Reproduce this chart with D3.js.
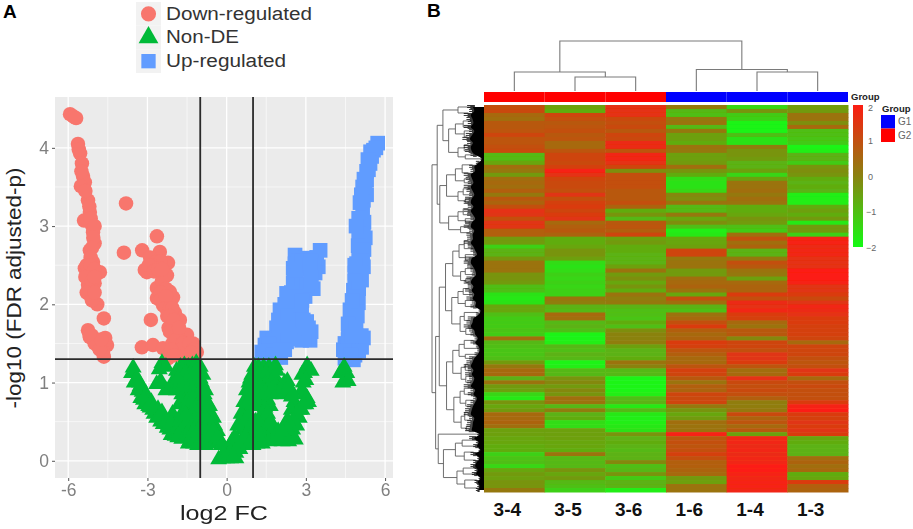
<!DOCTYPE html>
<html>
<head>
<meta charset="utf-8">
<script src="https://d3js.org/d3.v7.min.js"></script>
<style>
body { margin: 0; background: #fff; }
svg { display: block; font-family: "Liberation Sans", Arial, sans-serif; }
</style>
</head>
<body>
<svg width="913" height="529"></svg>
<script>

// panel A: values as [log2 FC, -log10 p]
var downPoints = [
  [-5.93,4.43],[-5.8,4.4],[-5.7,4.38],[-5.63,4.05],[-5.55,3.93],[-5.48,3.8],[-5.44,3.64],[-5.37,3.56],[-5.52,3.51],
  [-5.25,3.33],[-5.18,3.18],[-5.1,3.01],[-5.4,3.07],[-5.06,2.92],[-5,2.78],[-5.18,2.69],[-5.06,2.54],[-5.37,2.46],
  [-4.8,2.41],[-5.2,2.4],[-5.25,2.25],[-5,2.27],[-5.18,2.12],[-4.9,2.0],[-4.65,1.82],[-5.25,1.67],[-5.18,1.58],
  [-4.9,1.54],[-4.6,1.57],[-4.53,1.48],[-4.68,1.39],[-4.65,1.33],[-4.85,1.45],
  [-5.6,3.98],[-5.5,3.7],[-5.35,3.45],[-5.2,3.25],[-5.15,3.1],[-5.0,3.0],[-5.05,2.85],[-5.1,2.72],[-5.15,2.6],[-5.3,2.5],
  [-5.15,2.5],[-5.0,2.45],[-5.35,2.35],[-5.1,2.3],[-5.3,2.15],[-5.1,2.05],[-5,2.15],[-5.0,2.35],
  [-5.1,1.6],[-5,1.5],[-4.8,1.42],[-4.75,1.55],[-5.2,1.62],
  [-3.81,3.29],[-3.89,2.66],[-2.64,2.87],[-3.2,2.69],[-2.53,2.67],[-2.22,2.53],[-2.9,2.6],[-2.7,2.54],[-3.1,2.44],
  [-2.34,2.41],[-3.02,2.41],[-2.26,2.37],[-2.64,2.21],[-2.15,2.16],[-2.64,2.08],[-2.41,1.99],[-2.03,2.09],
  [-2.87,1.8],[-1.96,1.89],[-2.07,1.76],[-1.77,1.8],[-2.03,1.63],[-1.5,1.61],[-1.77,1.54],[-1.27,1.5],[-3.21,1.45],
  [-2.79,1.48],[-2.41,1.44],[-1.88,1.45],[-1.5,1.44],[-1.13,1.39],[-2.22,1.31],[-1.39,1.31],[-2.2,1.7],[-2.45,2.3],[-2.3,2.2],
  [-2.5,2.55],[-2.85,2.5],[-2.95,2.5],[-2.75,2.42],[-2.6,2.45],[-2.45,2.45],[-2.5,2.15],[-2.5,2.05],[-2.3,2.1],[-2.3,1.95],
  [-2.15,1.95],[-2.25,1.85],[-2.05,1.95],[-2.15,1.85],[-2.0,1.8],[-2.15,1.65],[-2.05,1.5],[-1.85,1.65],[-1.9,1.55],[-1.65,1.5],
  [-1.6,1.4],[-1.75,1.42],[-1.4,1.5],[-1.25,1.42],[-1.35,1.38],[-1.95,1.35],[-2.1,1.42],[-1.8,1.7],[-2.0,1.35]
];

var upPoints = [
  [5.72,4.06],[5.56,3.97],[5.49,3.89],[5.43,3.8],[5.37,3.72],[5.3,3.59],[5.24,3.46],[5.18,3.33],[5.15,3.2],[5.11,3.08],
  [5.18,2.91],[5.11,2.78],[5.08,2.65],[4.92,2.52],[5.18,2.48],[4.86,2.4],[5.11,2.31],[4.8,2.18],[4.99,2.02],[4.95,2.25],
  [4.67,1.93],[4.85,1.95],[4.8,1.76],[4.61,1.63],[5.18,1.57],[4.9,1.6],[4.48,1.5],[5.11,1.45],[4.42,1.42],[4.86,1.35],[4.48,1.31],[4.8,1.29],[4.7,1.45],
  [5.0,3.1],[5.2,3.05],[5.0,2.9],[5.25,2.85],[4.98,2.75],[5.2,2.7],[5.0,2.6],[5.15,2.55],[4.85,2.5],[5.05,2.4],[4.85,2.3],[5.0,2.2],
  [4.9,2.1],[4.75,2.05],[4.7,1.85],[4.95,1.85],[4.6,1.75],[4.9,1.7],[4.6,1.55],[4.75,1.6],[5.1,1.6],[4.5,1.4],[5,1.4],[4.7,1.35],
  [5.3,3.4],[5.15,3.5],[5.3,3.7],[5.45,3.95],[5.65,4.0],[5.05,3.3],[5.1,3.4],[5.2,3.6],[5.35,3.85],[4.9,3.0],
  [2.59,2.63],[3.54,2.69],[2.97,2.59],[3.41,2.6],[2.59,2.52],[3.47,2.48],[2.52,2.46],[3.35,2.4],[2.65,2.37],[2.97,2.52],
  [2.52,2.27],[3.28,2.2],[2.27,2.14],[2.78,2.14],[2.97,2.1],[2.02,1.93],[2.52,1.97],[2.84,1.93],[1.96,1.8],[2.46,1.84],
  [3.03,1.78],[1.89,1.7],[2.4,1.71],[3.03,1.63],[2.46,1.61],[1.52,1.57],[1.96,1.61],[3.16,1.54],[1.45,1.48],[2.02,1.52],
  [1.33,1.39],[1.77,1.42],[1.45,1.33],[1.89,1.33],[2.27,1.52],[2.84,1.54],[2.52,1.56],[2.2,1.85],[2.65,1.75],[3.2,1.65],
  [2.7,2.55],[2.85,2.55],[3.2,2.55],[3.3,2.5],[2.55,2.35],[2.7,2.45],[3.15,2.5],[3.2,2.35],[2.65,2.25],[2.85,2.25],[3.05,2.25],[3.2,2.28],
  [2.45,2.15],[2.6,2.1],[2.2,2.0],[2.35,2.0],[2.65,2.0],[2.85,2.05],[2.15,1.85],[2.3,1.85],[2.65,1.85],[2.8,1.8],[2.15,1.7],[2.6,1.68],
  [2.9,1.8],[2.2,1.55],[2.1,1.65],[1.75,1.55],[1.6,1.5],[1.55,1.4],[1.35,1.3],[1.6,1.3],[2.05,1.32],[1.75,1.35],[2.0,1.42],[2.2,1.42],
  [3.1,1.55],[2.95,1.55],[2.7,1.56],[2.95,1.72],[3.1,1.7]
];

var nonDEPoints = [
  [-3.6,1.12],[-3.54,1.19],[-3.5,1.0],[-3.4,1.05],[-3.35,.9],[-3.28,.95],[-3.25,.8],[-3.1,.72],[-3.0,.78],[-2.9,.68],
  [-2.75,.6],[-2.6,.66],[-2.5,.5],[-2.35,.55],[-2.2,.46],[-2.05,.6],[-2.0,.38],[-1.85,.3],[-1.95,.5],[-1.7,.28],
  [-1.55,.4],[-1.4,.25],[-1.25,.22],[-1.1,.2],[-.95,.2],[-.8,.2],[-.65,.22],[-.5,.25],
  [-3.3,1.0],[-3.2,.88],[-3.05,.85],[-3.15,.78],[-2.95,.7],[-2.85,.75],[-2.8,.65],[-2.65,.55],[-2.55,.58],[-2.45,.62],
  [-2.4,.47],[-2.25,.42],[-2.3,.5],[-2.15,.4],[-2.1,.48],[-2.1,.33],[-1.95,.32],[-1.85,.42],[-1.8,.35],[-1.7,.4],
  [-1.75,.52],[-1.65,.5],[-1.6,.3],[-1.5,.3],[-1.45,.22],[-1.3,.32],[-1.15,.3],[-1.0,.25],[-.85,.27],[-.7,.28],[-.55,.3],
  [-2.45,1.25],[-2.55,1.17],[-2.3,1.2],[-2.65,.98],[-2.5,1.02],[-2.3,.9],[-2.15,.92],[-2.05,1.0],
  [-1.9,1.15],[-1.75,1.2],[-1.6,1.22],[-1.45,1.2],[-1.3,1.22],[-1.15,1.25],[-1,1.2],
  [-1.8,1.0],[-1.6,1.05],[-1.4,1.05],[-1.2,1.1],[-1,1.05],[-.9,1.1],
  [-1.9,.9],[-1.7,.85],[-1.5,.9],[-1.3,.92],[-1.1,.95],[-.9,.95],[-.8,.9],
  [-1.8,.72],[-1.3,.75],[-1.1,.78],[-.9,.8],[-.75,.75],[-.65,.7],
  [-1.45,.65],[-1.25,.6],[-1.05,.62],[-.85,.65],[-.6,.6],[-.5,.55],
  [-1.5,.5],[-1.3,.45],[-1.1,.47],[-.9,.48],[-.7,.45],[-.45,.45],[-.35,.38],
  [-1.0,.35],[-.8,.33],[-.6,.33],[-.4,.3],[-.25,.26],[-.15,.2],
  [-1.6,.75],[-1.5,.75],[-1.7,.95],[-1.55,.98],[-1.35,.98],[-1.15,1.0],[-.95,1.0],[-1.75,1.1],[-1.55,1.12],[-1.35,1.12],[-1.15,1.15],
  [-1.85,1.05],[-1.7,.6],[-1.6,.62],[-1.4,.8],[-1.2,.85],[-1,.88],[-.85,.85],[-1.35,.6],[-1.15,.68],[-.95,.72],[-.75,.65],[-.65,.55],
  [-1.4,.55],[-1.2,.52],[-1,.55],[-.8,.55],[-.6,.45],[-1.25,.38],[-1.05,.4],[-.85,.4],[-.65,.38],[-.5,.38],[-.35,.3],[-.2,.2],[-1.55,.58],
  [-.3,.02],[-.15,.03],[0,.03],[.15,.03],[.35,.03],[-.1,.1],[.1,.1],[.25,.15],[.35,.1],[.2,.25],[.4,.25],[.5,.15],
  [-.05,.05],[.05,.05],[.25,.05],[.3,.2],[.45,.2],[.55,.25],[.6,.4],[.55,.45],[.7,.6],[.8,.7],[.8,.5],[.75,.4],[.9,.5],[.95,.7],
  [1.0,.8],[.95,.95],[.65,.55],[.8,.8],[.9,1.05],[1,1.0],[1.1,.5],[1.1,.35],[.95,.27],[1.25,.27],[1.15,.8],[1.15,1.1],
  [.3,.3],[.42,.45],[.55,.6],[.65,.75],[.75,.9],[.85,1.0],[.95,1.1],[1.05,1.2],
  [.7,.5],[.85,.6],[.9,.8],[.85,.4],[1,.35],[1,.5],[1.1,.7],[1.05,.9],[.7,.3],[.85,.22],[1,.2],[1.15,.22],
  [1.2,1.2],[1.4,1.2],[1.6,1.2],[1.85,1.22],[1.2,1.02],[1.4,1.05],[1.6,1.05],[1.8,1.05],[1.95,1.0],[2.05,.95],[2.25,.92],
  [1.3,1.12],[1.5,1.12],[1.7,1.12],[1.9,1.15],[1.3,.95],[1.5,.97],[1.7,1.0],[1.85,.97],[1.35,.78],[1.55,.78],[1.65,.85],[1.85,.88],
  [1.25,.85],[1.45,.88],[1.7,.9],[2.15,.85],[2.45,.82],[1.25,.7],[1.45,.68],[1.65,.7],[1.2,.5],[1.45,.52],[1.55,.35],
  [1.35,.6],[1.55,.6],[1.3,.45],[1.5,.42],[1.7,.35],[1.45,.3],[1.75,.3],[2,.3],[2.2,.3],[2.45,.33],[2.5,.4],[2.65,.45],[2.75,.55],
  [2.85,.65],[3,.72],[3.1,.75],[1.95,.88],[2.1,.92],[2.2,1.0],[2.3,1.02],[2.55,.75],[2.45,.65],[2.3,.52],[2.2,.45],
  [1.3,.32],[1.35,.22],[1.6,.25],[1.85,.28],[2.1,.25],[2.35,.25],[2.6,.27],
  [3.05,.8],[2.95,.85],[2.85,.9],[2.9,.72],[2.75,.65],[2.65,.6],[2.55,.5],[2.4,.45],[2.3,.4],
  [1.65,.5],[1.8,.42],[1.95,.38],[2.1,.38],[2.35,.95],[2.5,.85],
  [3.05,1.22],[2.95,1.12],[3.2,1.15],[2.85,1.1],[3.0,1.03],[2.9,1.0],
  [4.45,1.2],[4.55,1.12],[4.3,1.12],[4.4,1.0],[4.6,1.02]
];

var xTicks = [-6,-3,0,3,6];
var xMinor = [-4.5,-1.5,1.5,4.5];
var yTicks = [0,1,2,3,4];
var yMinor = [.5,1.5,2.5,3.5];
var fcCuts = [-1,1];
var pCut = [1.3];
var legendNames = ["Down-regulated","Non-DE","Up-regulated"];

// panel B: one list per column, top row first
var col34 = [
  1.0,1.1,.5,.4,.8,.8,.9,1.2,.9,.9,
  1.0,1.1,-.9,-.9,-.6,.4,.2,-.4,.4,.5,
  .4,.7,.2,.8,.6,1.0,1.6,1.5,1.0,1.5,
  1.5,.7,.7,-.4,-.4,-1.3,-.8,-.8,-.3,.3,
  .3,.3,-.3,-.3,-.4,-1.0,-1.0,-1.6,-1.7,-1.6,
  -.6,-.6,-1,-1.2,-1.2,-1.2,-1.1,-1.2,.4,-.9,
  -1,-1.1,-1.1,-1,-.4,.2,.5,.5,-.8,.3,
  -.4,-.5,-1.4,-1.7,-.3,-.6,-.4,.5,.5,.6,
  .4,-.5,-.5,-.6,-.6,-.7,-.7,-1.3,-1.1,-1,
  -1.4,-.6,-.4,-.5,-.3,-.3,.2];
var col35 = [
  -.5,-.7,1.2,1,.8,.9,1,.8,.9,.5,
  .5,.9,1.2,1.2,1.1,1.3,1.9,1.6,1.2,1.1,
  1.1,1,1.5,1,1.3,1.4,1.2,1.4,1.5,.5,
  .7,.8,.6,-.7,-.7,-.6,-.3,-.3,-.5,-1.5,
  -1.6,-1.5,-1.3,-1.4,-1.3,-1.4,-1.3,-1.3,.3,.1,
  -.8,-.9,.5,.4,-.9,-.8,-1,-1.9,-1.9,-1.8,
  -.9,-1,-.8,-.9,-1.9,-1.8,-.9,-.9,-.3,-.1,
  -.4,-.1,-.3,.4,.3,-.9,.1,-.8,-.7,-1.5,
  -1.5,-.5,-.5,-.5,-.6,-.6,-.7,.3,-.9,-.9,
  -.9,-.3,-.6,-.4,-.9,-1,-1.3];
var col36 = [
  1.6,1.6,1.6,1.1,1,1.1,.8,1.2,1.1,1.7,
  1.7,.9,1.8,1.8,1.6,1.2,-.2,1,1,1,
  1,.8,.8,.8,1,.6,-.7,-.3,-.9,.8,
  .9,.7,1.2,-.5,-.4,-.7,-.7,-.8,-.8,-.8,
  -.5,.3,-.4,-.2,-.6,-.3,-.7,.3,.1,.2,
  -.8,-1,-1,-1.1,-.7,-1,-.2,0,0,.1,
  -.5,-.8,-.8,-.7,.3,0,-.9,-.9,-1.9,-1.9,
  -1.9,-1.9,-1.8,-1,-.8,-1.7,-.9,-1.7,-1.8,-1.8,
  -1.7,-1.6,-.3,-.8,-.7,-.8,-.9,-.8,-.8,-.1,
  -1,-.9,-.3,-1.2,-.8,-.8,-1.8];
var col16 = [
  .2,-.9,-1,.2,.3,-.9,.2,-.5,-.5,-.7,
  .3,.2,-.5,-.5,-.4,.4,-.3,-.7,-1.5,-1.6,
  -1.6,-1.4,-.1,-.2,.3,-.9,-.9,.2,-.6,-.2,
  -1,-1.8,-1.7,-.6,-.6,-.5,1.2,1.2,.2,.3,
  .3,-.4,-.4,.4,.5,.6,.3,-.6,1,.4,
  -.8,-1,.3,.5,1,1.4,.7,.5,.6,1.4,
  1.3,.9,.7,.5,.5,.9,1.3,1.2,.8,.3,
  .7,.6,1.2,1.1,1.2,.2,-.3,-.6,-.4,.4,
  .3,.3,1.9,.8,1,.9,1,1.3,1,.7,
  .7,.6,.5,-.4,-.5,.3,.3];
var col14 = [
  -1.4,-.3,-1.2,-1.3,-1.9,-1.9,-1.9,-1,-1.6,-1.6,
  .1,-.3,-.3,-.4,-.8,-.8,-.5,-1.4,-.5,.3,
  .3,.4,.2,.4,.3,-.7,-.7,-.6,-.3,-.4,
  -1,-1.2,.4,1,.4,.6,-.8,-.8,.2,1,
  .8,.3,.2,-.5,.5,.6,.6,1.4,1,1.7,
  1.6,1.8,1.4,1.3,.5,.3,.8,.8,-.1,1.2,
  1.2,1,1.5,1.5,1.4,.9,.4,.5,1.6,1.1,
  1,1.1,1,.7,.1,.1,.2,1.1,.6,.9,
  .5,.8,-.5,1.8,1.8,1.7,1.8,1.7,1.8,1.8,
  2,2,1.9,1.8,1.9,1.9,1.8];
var col13 = [
  -.4,-.4,.3,.3,-.2,.5,-1,-1,-1.1,-1.2,
  -1.9,-1.8,-.8,-.8,-1.2,-.3,-.2,-.3,-.7,-.8,
  -.7,-.8,-1.8,-1.8,-1.8,-.7,-.5,-.7,-.4,-1.7,
  -.4,-.4,-1.3,1.8,1.9,1.7,1.8,1.8,1.6,1.6,
  1.6,2,2,2,1.9,1.5,1.5,1.4,1.1,1.5,
  1.8,1.7,1.6,1.4,1.4,1.3,1.3,1.3,1.2,.5,
  1.2,1.2,1.2,1,.9,1,1.5,1.4,.5,1,
  1.1,1,1,1,1.4,1.9,2,1.4,1.3,1.5,
  1.4,1.5,1.4,-.6,-.7,-.8,-.8,-.8,.4,.6,
  .4,.5,-.7,-.6,1.4,.7,.6];

var sampleNames = ["3-4","3-5","3-6","1-6","1-4","1-3"];
var sampleGroups = ["G2","G2","G2","G1","G1","G1"];
var groupNames = ["G1","G2"];
var colorTicks = [2,1,0,-1,-2];

// how deep the fine row branches reach, per row
var combDepth = [
  .25,.22,.3,.26,.24,.3,.22,.27,.32,.25,
  .3,.28,.2,.05,.12,.22,.2,.3,.27,.24,
  .3,.26,.22,.28,.3,.24,.3,.25,.2,.28,
  .3,.22,.26,.25,.3,.24,.2,.16,.28,.3,
  .25,.2,.18,.26,.3,.24,.28,.22,.26,.18,
  .2,.08,.12,.24,.26,.3,.22,.2,.14,.2,
  .12,.1,.14,.22,.26,.3,.24,.28,.22,.25,
  .3,.2,.24,.16,.2,.25,.28,.3,.22,.25,
  .26,.28,.1,.22,.12,.16,.08,.2,.1,.16,
  .2,.14,.18,.08,.14,.1,.12];

// dendrograms as nested [height, left, right]. top tree leaves are column numbers, row tree leaves are row counts
var colTree = [1, [.38, 0, [.28, 1, 2]], [.43, 3, [.38, 4, 5]]];
var rowTree = [1.0,
  [.90,
    [.79, [.5,1,2], [.68, [.55,[.4,2,1],[.38,1,2]], [.5,[.38,2,1],[.36,1,1]]]],
    [.85,
      [.72, [.55,[.42,2,2],[.38,1,1]], [.5,[.4,2,1],[.36,1,1]]],
      [.68, [.5,[.4,2,1],[.36,1,1]], [.45,1,2]]]],
  [.93,
    [.86,
      [.74, [.6,[.48,[.38,2,2],[.36,1,2]],[.45,[.36,2,1],[.35,1,1]]], [.62,[.5,[.4,2,1],[.36,2,1]],[.46,[.38,2,2],[.35,2,1]]]],
      [.72, [.6,[.48,[.38,2,2],[.36,1,1]],[.44,[.36,2,1],[.35,2,1]]], [.58,[.46,[.38,2,1],[.35,2,1]],[.44,[.37,2,2],[.34,1,1]]]]],
    [.88, 1, [.78, [.55,[.42,2,1],[.38,2,2]], [.52,[.4,2,1],[.37,2,2]]]]]
];

var svg = d3.select("svg");

var defs = svg.append("defs");
defs.append("filter").attr("id", "soft").append("feGaussianBlur").attr("stdDeviation", 0.6);
defs.append("filter").attr("id", "softer").append("feGaussianBlur").attr("stdDeviation", 0.35);

svg.append("text").attr("x", 3).attr("y", 18).attr("font-size", 19).attr("font-weight", "bold").text("A");
svg.append("text").attr("x", 427).attr("y", 17).attr("font-size", 19).attr("font-weight", "bold").text("B");

/* ---------- volcano plot ---------- */

var x = d3.scaleLinear().domain([-6.5, 6.3]).range([55, 393]);
var y = d3.scaleLinear().domain([-0.22, 4.65]).range([478, 97]);

var colorDown = "#f8766d", colorNon = "#00ba38", colorUp = "#619cff";

var panel = svg.append("g");

panel.append("rect")
  .attr("x", x.range()[0]).attr("y", y.range()[1])
  .attr("width", x.range()[1] - x.range()[0])
  .attr("height", y.range()[0] - y.range()[1])
  .attr("fill", "#ebebeb");

panel.selectAll(".minorx").data(xMinor).enter().append("line")
  .attr("x1", d => x(d)).attr("x2", d => x(d)).attr("y1", y.range()[0]).attr("y2", y.range()[1])
  .attr("stroke", "#fff").attr("stroke-width", 0.6);
panel.selectAll(".minory").data(yMinor).enter().append("line")
  .attr("y1", d => y(d)).attr("y2", d => y(d)).attr("x1", x.range()[0]).attr("x2", x.range()[1])
  .attr("stroke", "#fff").attr("stroke-width", 0.6);
panel.selectAll(".majorx").data(xTicks).enter().append("line")
  .attr("x1", d => x(d)).attr("x2", d => x(d)).attr("y1", y.range()[0]).attr("y2", y.range()[1])
  .attr("stroke", "#fff").attr("stroke-width", 1.3);
panel.selectAll(".majory").data(yTicks).enter().append("line")
  .attr("y1", d => y(d)).attr("y2", d => y(d)).attr("x1", x.range()[0]).attr("x2", x.range()[1])
  .attr("stroke", "#fff").attr("stroke-width", 1.3);

var circleSym = d3.symbol().type(d3.symbolCircle).size(165);
var triSym = d3.symbol().type(d3.symbolTriangle).size(125);
var squareSym = d3.symbol().type(d3.symbolSquare).size(215);

var marks = panel.append("g").attr("filter", "url(#softer)");

function drawPoints(points, sym, color) {
  marks.append("g").selectAll("path").data(points).enter().append("path")
    .attr("d", sym)
    .attr("transform", d => "translate(" + x(d[0]) + "," + y(d[1]) + ")")
    .attr("fill", color);
}

drawPoints(downPoints, circleSym, colorDown);
drawPoints(upPoints, squareSym, colorUp);
drawPoints(nonDEPoints, triSym, colorNon);

panel.selectAll(".vcut").data(fcCuts).enter().append("line")
  .attr("x1", d => x(d)).attr("x2", d => x(d)).attr("y1", y.range()[0]).attr("y2", y.range()[1])
  .attr("stroke", "#2b2b2b").attr("stroke-width", 1.8);
panel.selectAll(".hcut").data(pCut).enter().append("line")
  .attr("y1", d => y(d)).attr("y2", d => y(d)).attr("x1", x.range()[0]).attr("x2", x.range()[1])
  .attr("stroke", "#2b2b2b").attr("stroke-width", 1.6);

var xAxis = svg.append("g")
  .attr("transform", "translate(0," + y.range()[0] + ")")
  .call(d3.axisBottom(x).tickValues(xTicks).tickSize(3).tickPadding(3).tickFormat(d => String(d)));
var yAxis = svg.append("g")
  .attr("transform", "translate(" + x.range()[0] + ",0)")
  .call(d3.axisLeft(y).tickValues(yTicks).tickSize(3).tickPadding(3).tickFormat(d => String(d)));

[xAxis, yAxis].forEach(function (a) {
  a.select(".domain").remove();
  a.selectAll("line").attr("stroke", "#555");
  a.selectAll("text").attr("fill", "#7f7f7f").attr("font-size", 17.5).attr("font-family", "Liberation Sans");
});

// the titles in the picture are stretched sideways, hence textLength
svg.append("text").attr("x", 224).attr("y", 520).attr("text-anchor", "middle")
  .attr("font-size", 21).attr("fill", "#222")
  .attr("textLength", 88).attr("lengthAdjust", "spacingAndGlyphs").text("log2 FC");
svg.append("text").attr("transform", "translate(21,288) rotate(-90)").attr("text-anchor", "middle")
  .attr("font-size", 21).attr("fill", "#222")
  .attr("textLength", 241).attr("lengthAdjust", "spacingAndGlyphs").text("-log10 (FDR adjusted-p)");

// legend
var legendY = d3.scaleBand().domain(legendNames).range([2, 73]);
var legendSyms = [
  d3.symbol().type(d3.symbolCircle).size(180),
  d3.symbol().type(d3.symbolTriangle).size(170),
  d3.symbol().type(d3.symbolSquare).size(205)
];
var legendColors = [colorDown, colorNon, colorUp];
var legendWidths = [146, 73, 120];

var legend = svg.append("g").selectAll("g").data(legendNames).enter().append("g")
  .attr("transform", d => "translate(136," + legendY(d) + ")");
legend.append("rect").attr("width", 25).attr("height", legendY.bandwidth()).attr("fill", "#f2f2f2");
legend.append("path")
  .attr("d", (d, i) => legendSyms[i]())
  .attr("transform", "translate(12.5," + legendY.bandwidth() / 2 + ")")
  .attr("fill", (d, i) => legendColors[i]);
legend.append("text")
  .attr("x", 30).attr("y", legendY.bandwidth() / 2 + 6)
  .attr("font-size", 18).attr("fill", "#333")
  .attr("textLength", (d, i) => legendWidths[i]).attr("lengthAdjust", "spacingAndGlyphs").text(d => d);

/* ---------- heatmap ---------- */

var columns = [col34, col35, col36, col16, col14, col13];

var colX = d3.scaleBand().domain(d3.range(columns.length)).range([484, 848]);
var rowY = d3.scaleBand().domain(d3.range(col34.length)).range([105, 492]);
var heat = d3.scaleLinear().domain([-2, 0, 2]).range(["#14fa14", "#8a8210", "#fc1c12"]);
var groupColor = d3.scaleOrdinal().domain(groupNames).range(["#0000ff", "#ff0000"]);

var heatG = svg.append("g").attr("filter", "url(#soft)");

columns.forEach(function (col, c) {
  heatG.append("g").selectAll("rect").data(col).enter().append("rect")
    .attr("x", colX(c))
    .attr("y", (d, r) => rowY(r))
    .attr("width", colX.bandwidth() + 0.5)
    .attr("height", rowY.bandwidth() + 0.5)
    .attr("fill", d => heat(d));
});

// group strip
svg.append("g").selectAll("rect").data(sampleGroups).enter().append("rect")
  .attr("x", (d, i) => colX(i)).attr("y", 92)
  .attr("width", colX.bandwidth()).attr("height", 10)
  .attr("fill", d => groupColor(d));
svg.append("text").attr("x", 851).attr("y", 100).attr("font-size", 9.5).attr("font-weight", "bold")
  .attr("fill", "#222").text("Group");

// sample labels sit a little left of the columns
svg.append("g").selectAll("text").data(sampleNames).enter().append("text")
  .attr("x", (d, i) => colX(i) + colX.bandwidth() / 2 - 7)
  .attr("y", 516).attr("text-anchor", "middle")
  .attr("font-size", 19).attr("font-weight", "bold").attr("fill", "#111").text(d => d);

// column dendrogram
var colHeight = d3.scaleLinear().domain([0, 1]).range([91, 41]);
var colLines = svg.append("g").attr("fill", "none").attr("stroke", "#7a7a7a").attr("stroke-width", 1.1);

function drawColNode(node) {
  if (typeof node == "number") {
    return { pos: colX(node) + colX.bandwidth() / 2, h: 0 };
  }
  let a = drawColNode(node[1]);
  let b = drawColNode(node[2]);
  let ny = colHeight(node[0]);
  colLines.append("path")
    .attr("d", "M" + a.pos + "," + colHeight(a.h) + "V" + ny + "H" + b.pos + "V" + colHeight(b.h));
  return { pos: (a.pos + b.pos) / 2, h: node[0] };
}
drawColNode(colTree);

// row dendrogram: solid black mass plus thin feathered ends
var rowHeight = d3.scaleLinear().domain([0, 1]).range([484, 432]);

var rowLines = svg.append("g").attr("fill", "none").attr("stroke", "#5e5e5e").attr("stroke-width", 0.9);

function drawRowNode(node, start) {
  if (typeof node == "number") {
    let mid = start + node / 2;
    return { pos: rowY(Math.floor(mid)) + (mid % 1) * rowY.bandwidth(), h: combDepth[Math.floor(mid)], count: node };
  }
  let a = drawRowNode(node[1], start);
  let b = drawRowNode(node[2], start + a.count);
  let nx = rowHeight(node[0]);
  rowLines.append("path")
    .attr("d", "M" + rowHeight(a.h) + "," + a.pos + "H" + nx + "V" + b.pos + "H" + rowHeight(b.h));
  return { pos: (a.pos + b.pos) / 2, h: node[0], count: a.count + b.count };
}
drawRowNode(rowTree, 0);

var combG = svg.append("g").attr("filter", "url(#softer)");

var combArea = d3.area()
  .curve(d3.curveMonotoneY)
  .y((d, r) => rowY(r) + rowY.bandwidth() / 2)
  .x0(rowHeight(0))
  .x1(d => rowHeight(d * 0.85));

combG.append("path").datum(combDepth).attr("d", combArea).attr("fill", "#000");

// feathered ends only past the solid part
[0.5, 1.5, 2.5, 3.5].forEach(function (off, k) {
  combG.append("g").selectAll("line").data(combDepth).enter().append("line")
    .attr("x1", d => rowHeight(d * (k % 2 ? 1.05 : 1.3)))
    .attr("x2", d => rowHeight(d * 0.7))
    .attr("y1", (d, r) => rowY(r) + off)
    .attr("y2", (d, r) => rowY(r) + off)
    .attr("stroke", "#000").attr("stroke-width", 0.8);
});

// colour bar
var barY = d3.scaleLinear().domain([2, -2]).range([105, 247]);
var grad = defs.append("linearGradient").attr("id", "bar").attr("x1", 0).attr("x2", 0).attr("y1", 0).attr("y2", 1);
colorTicks.forEach(function (t, i) {
  grad.append("stop").attr("offset", i / (colorTicks.length - 1)).attr("stop-color", heat(t));
});
svg.append("rect").attr("x", 853).attr("y", barY(2)).attr("width", 10).attr("height", barY(-2) - barY(2))
  .attr("fill", "url(#bar)");
svg.append("g").selectAll("text").data(colorTicks).enter().append("text")
  .attr("x", d => d < 0 ? 866 : 868).attr("y", d => d == 2 ? barY(d) + 5.5 : barY(d) + 3.5)
  .attr("font-size", 9).attr("fill", "#666").text(d => String(d).replace("-", "\u2212"));

// group legend
var groupY = d3.scaleBand().domain(groupNames).range([115, 142]);
svg.append("text").attr("x", 882).attr("y", 112).attr("font-size", 9.5).attr("font-weight", "bold")
  .attr("fill", "#222").text("Group");
svg.append("g").selectAll("rect").data(groupNames).enter().append("rect")
  .attr("x", 881).attr("y", d => groupY(d)).attr("width", 14).attr("height", groupY.bandwidth())
  .attr("fill", d => groupColor(d));
svg.append("g").selectAll("text").data(groupNames).enter().append("text")
  .attr("x", 898).attr("y", d => groupY(d) + groupY.bandwidth() / 2 + 3.5)
  .attr("font-size", 10).attr("fill", "#666").text(d => d);

</script>
</body>
</html>
